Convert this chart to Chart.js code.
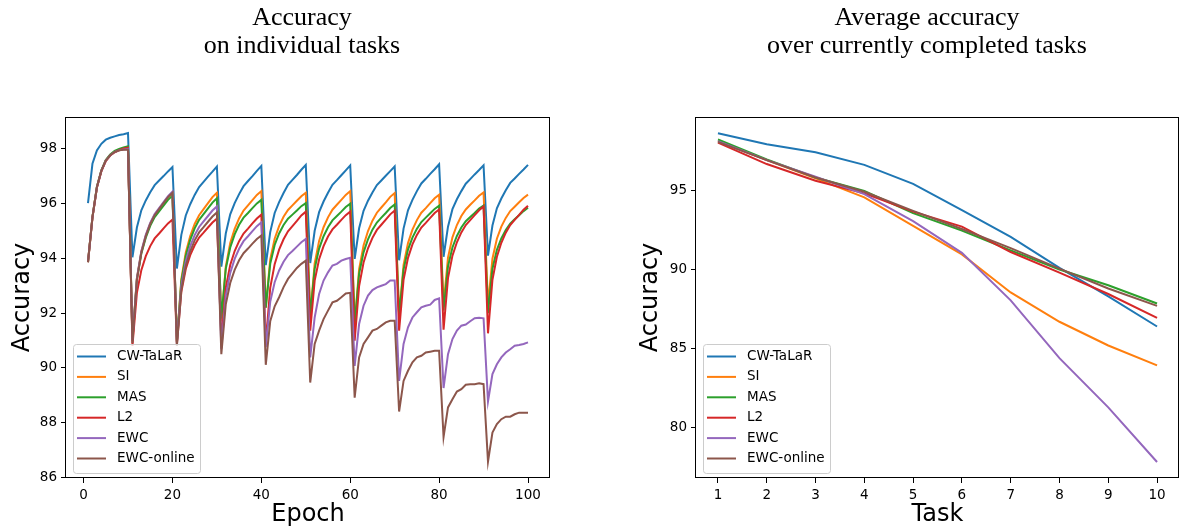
<!DOCTYPE html>
<html>
<head>
<meta charset="utf-8">
<script src="https://cdn.jsdelivr.net/npm/chart.js@4.4.1/dist/chart.umd.min.js"></script>
<style>
  body { margin: 0; width: 1180px; height: 529px; background: #fff; position: relative; overflow: hidden; }
  .panel { position: absolute; top: 0; }
  .title { position: absolute; top: 3px; width: 500px; text-align: center; color: #000;
           font-family: "Liberation Serif", "DejaVu Serif", serif; font-size: 26px; line-height: 28px; }
</style>
</head>
<body>
<canvas id="taskChart" class="panel" width="590" height="529" style="left:0"></canvas>
<canvas id="avgChart" class="panel" width="580" height="529" style="left:600px"></canvas>
<div class="title" style="left:52px">Accuracy<br>on individual tasks</div>
<div class="title" style="left:677px">Average accuracy<br>over currently completed tasks</div>
<script>
const methods = ['CW-TaLaR', 'SI', 'MAS', 'L2', 'EWC', 'EWC-online'];
const colors = ['#1f77b4', '#ff7f0e', '#2ca02c', '#d62728', '#9467bd', '#8c564b'];

// left panel: accuracy per epoch (10 epochs per task)
const epochs = [
    1, 2, 3, 4, 5, 6, 7, 8, 9, 10,
    11, 12, 13, 14, 15, 16, 17, 18, 19, 20,
    21, 22, 23, 24, 25, 26, 27, 28, 29, 30,
    31, 32, 33, 34, 35, 36, 37, 38, 39, 40,
    41, 42, 43, 44, 45, 46, 47, 48, 49, 50,
    51, 52, 53, 54, 55, 56, 57, 58, 59, 60,
    61, 62, 63, 64, 65, 66, 67, 68, 69, 70,
    71, 72, 73, 74, 75, 76, 77, 78, 79, 80,
    81, 82, 83, 84, 85, 86, 87, 88, 89, 90,
    91, 92, 93, 94, 95, 96, 97, 98, 99, 100
];
const epochTicks = [0, 20, 40, 60, 80, 100];
const accTicks = [86, 88, 90, 92, 94, 96, 98];

const cwTalarAcc = [
    96.02, 97.46, 97.95, 98.19, 98.34, 98.41, 98.46, 98.51, 98.54, 98.58,
    94.04, 95.13, 95.76, 96.12, 96.42, 96.68, 96.85, 97.01, 97.18, 97.34,
    93.63, 94.86, 95.57, 95.98, 96.32, 96.61, 96.80, 96.99, 97.17, 97.36,
    93.70, 94.91, 95.61, 96.02, 96.35, 96.64, 96.83, 97.01, 97.20, 97.38,
    93.75, 94.96, 95.66, 96.06, 96.39, 96.69, 96.87, 97.05, 97.24, 97.42,
    93.83, 95.01, 95.69, 96.08, 96.40, 96.69, 96.86, 97.04, 97.22, 97.40,
    93.98, 95.10, 95.74, 96.11, 96.41, 96.68, 96.85, 97.02, 97.19, 97.36,
    93.93, 95.09, 95.76, 96.14, 96.46, 96.74, 96.91, 97.09, 97.26, 97.44,
    94.06, 95.16, 95.80, 96.16, 96.46, 96.73, 96.90, 97.07, 97.23, 97.40,
    94.10, 95.20, 95.83, 96.19, 96.49, 96.76, 96.92, 97.09, 97.25, 97.42
];
const siAcc = [
    93.86, 95.50, 96.60, 97.20, 97.58, 97.77, 97.89, 97.95, 98.00, 98.05,
    91.00, 93.27, 94.24, 94.83, 95.27, 95.59, 95.81, 96.02, 96.24, 96.40,
    90.95, 93.24, 94.22, 94.82, 95.26, 95.58, 95.80, 96.02, 96.24, 96.40,
    91.70, 93.70, 94.56, 95.08, 95.46, 95.75, 95.94, 96.13, 96.32, 96.46,
    92.20, 93.96, 94.72, 95.18, 95.52, 95.77, 95.94, 96.11, 96.27, 96.40,
    91.90, 93.82, 94.64, 95.14, 95.50, 95.78, 95.96, 96.14, 96.32, 96.46,
    91.60, 93.61, 94.47, 95.00, 95.38, 95.67, 95.86, 96.05, 96.25, 96.39,
    91.90, 93.76, 94.56, 95.05, 95.40, 95.67, 95.84, 96.02, 96.20, 96.33,
    92.30, 94.03, 94.77, 95.22, 95.55, 95.79, 95.96, 96.12, 96.29, 96.41,
    92.30, 93.99, 94.72, 95.16, 95.48, 95.73, 95.89, 96.05, 96.21, 96.33
];
const masAcc = [
    93.86, 95.52, 96.62, 97.22, 97.60, 97.80, 97.93, 98.00, 98.06, 98.10,
    91.00, 93.23, 94.18, 94.76, 95.19, 95.51, 95.72, 95.93, 96.14, 96.30,
    90.95, 93.16, 94.10, 94.68, 95.10, 95.41, 95.62, 95.83, 96.04, 96.20,
    91.80, 93.62, 94.40, 94.88, 95.23, 95.49, 95.66, 95.84, 96.01, 96.14,
    92.20, 93.80, 94.49, 94.91, 95.22, 95.45, 95.60, 95.75, 95.91, 96.02,
    91.90, 93.62, 94.36, 94.81, 95.14, 95.39, 95.55, 95.71, 95.88, 96.00,
    91.60, 93.44, 94.22, 94.70, 95.05, 95.31, 95.49, 95.66, 95.84, 95.97,
    91.90, 93.59, 94.32, 94.76, 95.08, 95.33, 95.49, 95.65, 95.81, 95.93,
    92.10, 93.71, 94.40, 94.82, 95.13, 95.36, 95.51, 95.66, 95.82, 95.93,
    92.00, 93.62, 94.31, 94.73, 95.04, 95.27, 95.43, 95.58, 95.73, 95.85
];
const l2Acc = [
    93.86, 95.48, 96.58, 97.18, 97.56, 97.76, 97.88, 97.96, 98.02, 98.05,
    90.80, 92.74, 93.57, 94.08, 94.45, 94.73, 94.91, 95.10, 95.28, 95.42,
    90.85, 92.78, 93.61, 94.12, 94.48, 94.76, 94.94, 95.13, 95.31, 95.45,
    91.00, 92.93, 93.76, 94.27, 94.63, 94.91, 95.09, 95.28, 95.46, 95.60,
    90.90, 92.92, 93.79, 94.32, 94.70, 94.99, 95.18, 95.37, 95.57, 95.71,
    91.36, 93.19, 93.97, 94.45, 94.80, 95.06, 95.23, 95.41, 95.58, 95.71,
    90.99, 92.99, 93.85, 94.37, 94.75, 95.04, 95.23, 95.42, 95.61, 95.75,
    91.36, 93.22, 94.02, 94.51, 94.86, 95.13, 95.30, 95.48, 95.66, 95.79,
    91.39, 93.28, 94.10, 94.59, 94.95, 95.22, 95.40, 95.58, 95.76, 95.90,
    91.26, 93.22, 94.06, 94.57, 94.94, 95.22, 95.41, 95.59, 95.78, 95.92
];
const ewcAcc = [
    93.86, 95.50, 96.60, 97.20, 97.58, 97.77, 97.89, 97.95, 97.98, 98.00,
    91.00, 93.28, 94.26, 94.86, 95.30, 95.62, 95.84, 96.06, 96.28, 96.44,
    90.90, 93.00, 93.90, 94.45, 94.85, 95.15, 95.35, 95.55, 95.75, 95.90,
    90.70, 92.64, 93.47, 93.98, 94.35, 94.63, 94.81, 95.00, 95.18, 95.32,
    90.75, 92.41, 93.13, 93.56, 93.88, 94.12, 94.27, 94.43, 94.59, 94.71,
    90.38, 91.84, 92.70, 93.19, 93.49, 93.74, 93.80, 93.92, 93.98, 94.02,
    90.07, 91.60, 92.27, 92.64, 92.84, 92.94, 93.00, 93.06, 93.19, 93.19,
    89.52, 90.87, 91.48, 91.84, 92.03, 92.21, 92.27, 92.31, 92.48, 92.54,
    89.26, 90.50, 91.05, 91.36, 91.54, 91.58, 91.70, 91.81, 91.83, 91.81,
    88.77, 89.77, 90.13, 90.38, 90.56, 90.68, 90.81, 90.83, 90.87, 90.93
];
const ewcOnlineAcc = [
    93.86, 95.50, 96.60, 97.20, 97.58, 97.77, 97.89, 97.95, 97.97, 97.98,
    90.90, 93.21, 94.20, 94.81, 95.25, 95.58, 95.80, 96.02, 96.24, 96.40,
    90.80, 92.85, 93.73, 94.26, 94.66, 94.95, 95.14, 95.34, 95.53, 95.68,
    90.50, 92.32, 93.10, 93.58, 93.93, 94.19, 94.36, 94.54, 94.71, 94.84,
    90.11, 91.70, 92.25, 92.58, 92.95, 93.25, 93.45, 93.65, 93.80, 93.92,
    89.46, 90.87, 91.36, 91.78, 92.09, 92.39, 92.45, 92.58, 92.72, 92.74,
    88.91, 90.38, 90.87, 91.11, 91.36, 91.42, 91.54, 91.66, 91.72, 91.72,
    88.40, 89.52, 89.89, 90.20, 90.38, 90.44, 90.56, 90.59, 90.62, 90.62,
    87.47, 88.55, 88.85, 89.13, 89.22, 89.38, 89.40, 89.40, 89.43, 89.40,
    86.57, 87.63, 87.94, 88.12, 88.21, 88.21, 88.30, 88.36, 88.36, 88.36
];

// right panel: average accuracy after each task
const tasks = [1, 2, 3, 4, 5, 6, 7, 8, 9, 10];
const avgAccTicks = [80, 85, 90, 95];
const cwTalarAvg   = [98.60, 97.90, 97.40, 96.60, 95.40, 93.75, 92.05, 90.10, 88.30, 86.40];
const siAvg        = [98.10, 96.90, 95.75, 94.55, 92.75, 90.95, 88.55, 86.70, 85.20, 83.95];
const masAvg       = [98.20, 96.95, 95.80, 94.95, 93.55, 92.45, 91.20, 90.00, 89.00, 87.85];
const l2Avg        = [98.00, 96.65, 95.60, 94.80, 93.65, 92.70, 91.10, 89.80, 88.45, 86.95];
const ewcAvg       = [98.10, 96.90, 95.85, 94.75, 93.05, 91.05, 88.05, 84.40, 81.30, 77.85];
const ewcOnlineAvg = [98.05, 96.90, 95.80, 94.90, 93.70, 92.55, 91.35, 90.05, 88.80, 87.70];

const taskSeries = [cwTalarAcc, siAcc, masAcc, l2Acc, ewcAcc, ewcOnlineAcc];
const avgSeries = [cwTalarAvg, siAvg, masAvg, l2Avg, ewcAvg, ewcOnlineAvg];

function buildDatasets(xs, series) {
    return series.map((vals, i) => ({
        label: methods[i],
        data: vals.map((v, j) => ({x: xs[j], y: v})),
        borderColor: colors[i],
        backgroundColor: colors[i],
        borderWidth: 2,
        pointRadius: 0,
        tension: 0,
        fill: false,
        order: series.length - 1 - i  // later series drawn on top, like matplotlib
    }));
}

// matplotlib style box around the axes
const axesBox = {
    id: 'axesBox',
    afterDatasetsDraw(chart) {
        const {ctx, chartArea: a} = chart;
        ctx.save();
        ctx.strokeStyle = '#000';
        ctx.lineWidth = 1;
        ctx.strokeRect(Math.round(a.left) - 0.5, Math.round(a.top) + 0.5,
                       Math.round(a.right - a.left), Math.round(a.bottom - a.top) - 1);
        ctx.restore();
    }
};

// legend box in the lower left corner of the plot
const boxLegend = {
    id: 'boxLegend',
    afterDraw(chart) {
        const {ctx, chartArea: a} = chart;
        const sets = chart.data.datasets;
        const w = 127, h = 129, rowH = 20.4;
        const x = Math.round(a.left) + 7, y = Math.round(a.bottom) - 5 - h;
        ctx.save();
        ctx.fillStyle = 'rgba(255,255,255,0.8)';
        ctx.strokeStyle = '#cccccc';
        ctx.lineWidth = 1;
        ctx.beginPath();
        ctx.roundRect(x + 0.5, y + 0.5, w, h, 3);
        ctx.fill();
        ctx.stroke();
        ctx.font = '13.5px "DejaVu Sans"';
        ctx.textBaseline = 'middle';
        sets.forEach((ds, i) => {
            const cy = y + 12.5 + i * rowH;
            ctx.strokeStyle = ds.borderColor;
            ctx.lineWidth = 2;
            ctx.beginPath();
            ctx.moveTo(x + 4, cy);
            ctx.lineTo(x + 33, cy);
            ctx.stroke();
            ctx.fillStyle = '#000';
            ctx.fillText(ds.label, x + 44, cy);
        });
        ctx.restore();
    }
};

function axisOptions(min, max, tickVals, title, isX, size) {
    return {
        type: 'linear',
        min: min,
        max: max,
        afterBuildTicks: (s) => { s.ticks = tickVals.map(v => ({value: v})); },
        afterFit: (s) => { if (isX) { s.height = size; } else { s.width = size; } },
        grid: {drawOnChartArea: false, drawTicks: true, tickLength: 5, tickColor: '#000', tickWidth: 1},
        border: {display: false},
        ticks: {color: '#000', font: {family: 'DejaVu Sans', size: 13.5}, padding: 4, maxRotation: 0},
        title: {
            display: true, text: title, color: '#000',
            font: {family: 'DejaVu Sans', size: 24},
            padding: isX ? {top: 0, bottom: 0} : {top: 8, bottom: 0}
        }
    };
}

function makeChart(id, xs, series, xMin, xMax, xTicks, xTitle, yMin, yMax, yTicks, padLeft, padRight, yWidth) {
    return new Chart(document.getElementById(id), {
        type: 'line',
        data: {datasets: buildDatasets(xs, series)},
        options: {
            responsive: false,
            animation: false,
            devicePixelRatio: 1,
            layout: {padding: {left: padLeft, right: padRight, top: 117, bottom: 0}},
            plugins: {legend: {display: false}, tooltip: {enabled: false}},
            scales: {
                x: axisOptions(xMin, xMax, xTicks, xTitle, true, 51),
                y: axisOptions(yMin, yMax, yTicks, 'Accuracy', false, yWidth)
            }
        },
        plugins: [axesBox, boxLegend]
    });
}

makeChart('taskChart', epochs, taskSeries, -3.95, 104.95, epochTicks, 'Epoch',
          85.97, 99.17, accTicks, 0, 40, 66);
makeChart('avgChart', tasks, avgSeries, 0.55, 10.45, tasks, 'Task',
          76.84, 99.62, avgAccTicks, 28, 1, 68);
</script>
</body>
</html>
